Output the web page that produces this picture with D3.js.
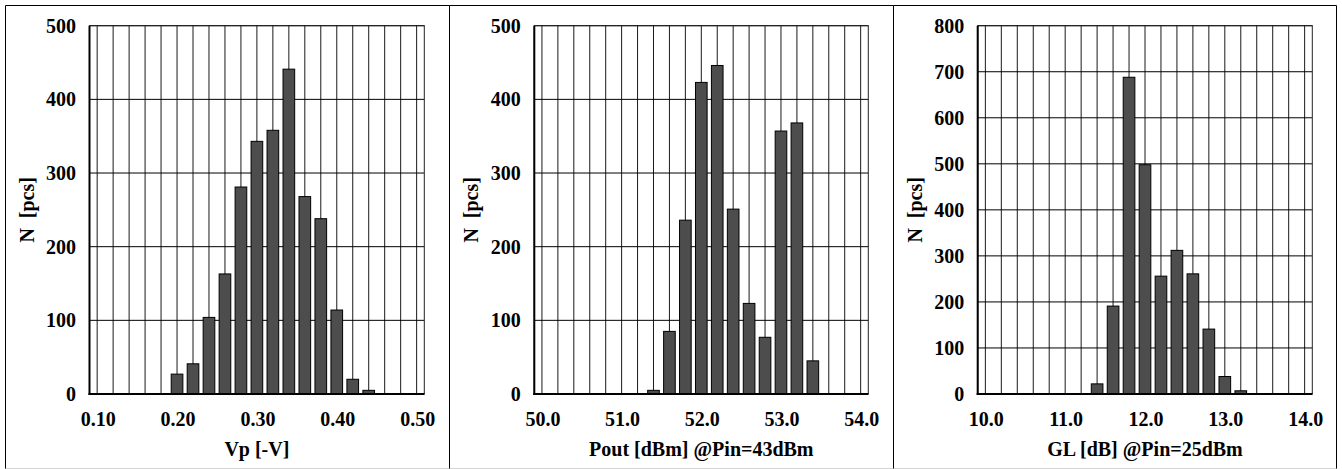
<!DOCTYPE html>
<html>
<head>
<meta charset="utf-8">
<script src="https://cdn.jsdelivr.net/npm/d3@7"></script>
<style>
  html, body { margin: 0; padding: 0; background: #fff; }
  svg text { font-family: "Liberation Serif", "Times New Roman", serif; font-weight: bold; fill: #000; }
</style>
</head>
<body>
<svg id="chart" width="1342" height="469"></svg>
<script>
// ---------- data ----------
const vpBins   = ["0.10","0.12","0.14","0.16","0.18","0.20","0.22","0.24","0.26","0.28","0.30","0.32","0.34","0.36","0.38","0.40","0.42","0.44","0.46","0.48","0.50"];
const vpCounts = [0,0,0,0,0,27,41,104,163,281,343,358,441,268,238,114,20,5,0,0,0];
const vpTickLabels = ["0.10","0.20","0.30","0.40","0.50"];
const vpYTicks = [0,100,200,300,400,500];

const poutBins   = ["50.0","50.2","50.4","50.6","50.8","51.0","51.2","51.4","51.6","51.8","52.0","52.2","52.4","52.6","52.8","53.0","53.2","53.4","53.6","53.8","54.0"];
const poutCounts = [0,0,0,0,0,0,0,5,85,236,423,446,251,123,77,357,368,45,0,0,0];
const poutTickLabels = ["50.0","51.0","52.0","53.0","54.0"];
const poutYTicks = [0,100,200,300,400,500];

const glBins   = ["10.0","10.2","10.4","10.6","10.8","11.0","11.2","11.4","11.6","11.8","12.0","12.2","12.4","12.6","12.8","13.0","13.2","13.4","13.6","13.8","14.0"];
const glCounts = [0,0,0,0,0,0,0,22,191,688,498,256,312,261,141,38,7,0,0,0,0];
const glTickLabels = ["10.0","11.0","12.0","13.0","14.0"];
const glYTicks = [0,100,200,300,400,500,600,700,800];

const xTitles = ["Vp [-V]", "Pout [dBm] @Pin=43dBm", "GL [dB] @Pin=25dBm"];
const yTitle = "N  [pcs]";

// ---------- layout ----------
const svg = d3.select("#chart");
const panels = [
  {bins: vpBins,   counts: vpCounts,   ticks: vpTickLabels,   yTicks: vpYTicks,   xTitle: xTitles[0], px0: 5.5,   px1: 449.5,  left: 89.5,  right: 424.3},
  {bins: poutBins, counts: poutCounts, ticks: poutTickLabels, yTicks: poutYTicks, xTitle: xTitles[1], px0: 449.5, px1: 893.5,  left: 534.3, right: 868.3},
  {bins: glBins,   counts: glCounts,   ticks: glTickLabels,   yTicks: glYTicks,   xTitle: xTitles[2], px0: 893.5, px1: 1336.5, left: 977.7, right: 1312.3}
];
const plotTop = 25.7, plotBottom = 394;
const fontSize = 20;

panels.forEach(p => {
  const g = svg.append("g");
  // panel frame
  g.append("line").attr("x1", p.px0).attr("x2", p.px1).attr("y1", 5.5).attr("y2", 5.5).attr("stroke", "#000");
  g.append("line").attr("x1", p.px0).attr("x2", p.px0).attr("y1", 5.5).attr("y2", 469).attr("stroke", "#000");
  g.append("line").attr("x1", p.px1).attr("x2", p.px1).attr("y1", 5.5).attr("y2", 469).attr("stroke", "#000");
  g.append("line").attr("x1", p.px0).attr("x2", p.px1).attr("y1", 468.5).attr("y2", 468.5).attr("stroke", "#d4d4d4");

  const x = d3.scalePoint().domain(p.bins).range([p.left, p.right]).padding(0.48);
  const y = d3.scaleLinear().domain([0, d3.max(p.yTicks)]).range([plotBottom, plotTop]);
  const step = x.step();

  // vertical gridlines at each category
  g.append("g").selectAll("line").data(p.bins).join("line")
    .attr("x1", d => x(d)).attr("x2", d => x(d))
    .attr("y1", plotTop).attr("y2", plotBottom)
    .attr("stroke", "#1a1a1a").attr("stroke-width", 1);

  // horizontal gridlines
  g.append("g").selectAll("line").data(p.yTicks).join("line")
    .attr("x1", p.left).attr("x2", p.right)
    .attr("y1", d => y(d)).attr("y2", d => y(d))
    .attr("stroke", "#000").attr("stroke-width", 1);

  // plot frame
  g.append("rect").attr("x", p.left).attr("y", plotTop).attr("width", p.right - p.left).attr("height", plotBottom - plotTop)
    .attr("fill", "none").attr("stroke", "#222").attr("stroke-width", 1);

  // bars
  const bw = step * 0.73;
  g.append("g").selectAll("rect").data(p.bins.map((b, i) => ({b, v: p.counts[i]})).filter(d => d.v > 0)).join("rect")
    .attr("x", d => x(d.b) - bw / 2)
    .attr("width", bw)
    .attr("y", d => y(d.v))
    .attr("height", d => y(0) - y(d.v))
    .attr("fill", "#4d4d4d").attr("stroke", "#000").attr("stroke-width", 1);

  // axis lines
  g.append("line").attr("x1", p.left).attr("x2", p.left).attr("y1", plotTop).attr("y2", plotBottom + 1)
    .attr("stroke", "#000").attr("stroke-width", 2);
  g.append("line").attr("x1", p.left - 1).attr("x2", p.right).attr("y1", plotBottom).attr("y2", plotBottom)
    .attr("stroke", "#000").attr("stroke-width", 2);

  // y tick labels
  g.append("g").selectAll("text").data(p.yTicks).join("text")
    .attr("x", p.left - 13.5).attr("y", d => y(d))
    .attr("text-anchor", "end").attr("dominant-baseline", "central")
    .attr("font-size", fontSize)
    .text(d => d);

  // x tick labels
  g.append("g").selectAll("text").data(p.ticks).join("text")
    .attr("x", d => x(d) + 1).attr("y", 425.5)
    .attr("text-anchor", "middle")
    .attr("font-size", fontSize)
    .text(d => d);

  // x title
  g.append("text").attr("x", (p.left + p.right) / 2).attr("y", 455.5)
    .attr("text-anchor", "middle").attr("font-size", fontSize).text(p.xTitle);

  // y title
  const cy = (plotTop + plotBottom) / 2;
  g.append("text").attr("transform", `translate(${p.left - 63},${cy}) rotate(-90)`)
    .attr("text-anchor", "middle").attr("dominant-baseline", "central")
    .attr("font-size", fontSize).style("white-space", "pre").text(yTitle);
});
</script>
</body>
</html>
